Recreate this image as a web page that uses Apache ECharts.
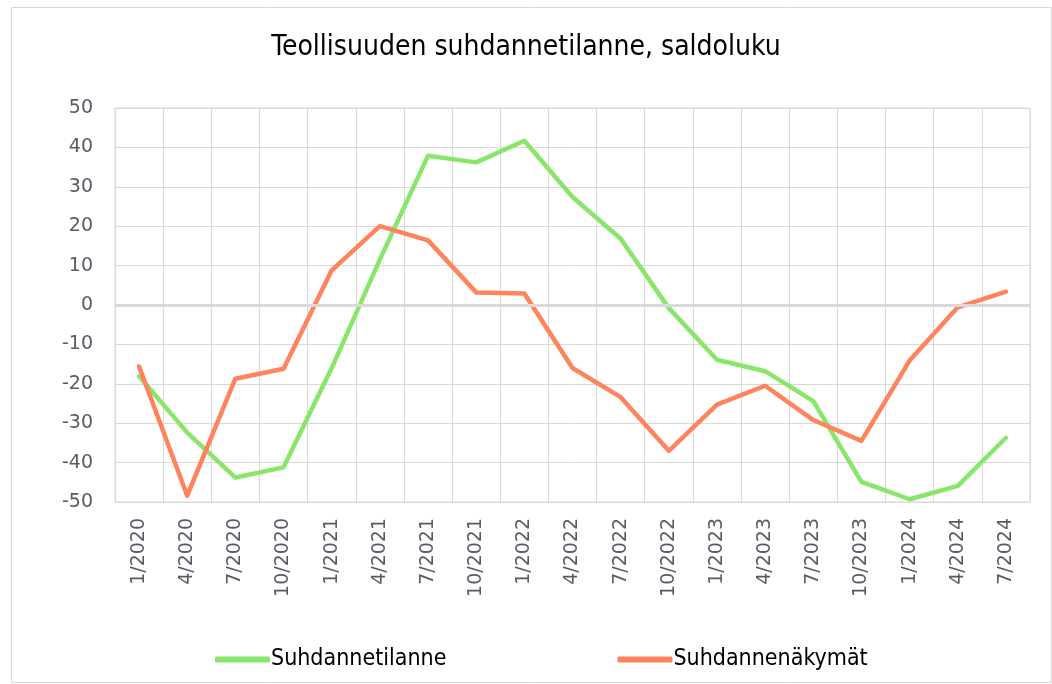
<!DOCTYPE html>
<html>
<head>
<meta charset="utf-8">
<script src="https://cdn.jsdelivr.net/npm/echarts@6/dist/echarts.min.js"></script>
<style>
  html, body { margin: 0; padding: 0; background: #fff; }
  #chart { width: 1052px; height: 684px; }
</style>
</head>
<body>
<div id="chart"></div>
<script>
// quarters
const categories = ['1/2020','4/2020','7/2020','10/2020','1/2021','4/2021','7/2021','10/2021','1/2022','4/2022','7/2022','10/2022','1/2023','4/2023','7/2023','10/2023','1/2024','4/2024','7/2024']
const tilanne = [-18.1,-32.4,-43.8,-41.2,-16,11.5,37.9,36.2,41.7,27.4,16.8,-0.8,-13.9,-16.8,-24.4,-44.9,-49.3,-45.9,-33.7]
const nakymat = [-15.6,-48.4,-18.7,-16.2,8.8,20.0,16.4,3.2,2.9,-16.0,-23.4,-37.0,-25.3,-20.5,-29.2,-34.5,-14.1,-0.6,3.4]
const yMin = -50, yMax = 50, yStep = 10

const chart = echarts.init(document.getElementById('chart'))
const gridColor = '#d9d9d9'

chart.setOption({
  backgroundColor: '#fff',
  animation: false,
  graphic: [{
    type: 'rect',
    shape: { x: 11.5, y: 7.5, width: 1040, height: 675 },
    style: { fill: 'none', stroke: '#d9d9d9', lineWidth: 1 },
    silent: true
  }],
  title: {
    text: 'Teollisuuden suhdannetilanne, saldoluku',
    left: 'center',
    top: 29,
    textStyle: { fontFamily: 'DejaVu Sans Condensed', fontSize: 28, fontWeight: 'normal', color: '#000' }
  },
  grid: { left: 115, right: 22, top: 108, bottom: 182, show: true, borderColor: gridColor, borderWidth: 1 },
  legend: {
    bottom: 8,
    left: 210,
    itemGap: 171,
    itemWidth: 55,
    itemHeight: 6,
    icon: 'roundRect',
    textStyle: { fontFamily: 'DejaVu Sans Condensed', fontSize: 23, color: '#000', padding: [0, 0, 0, -4] },
    data: ['Suhdannetilanne', 'Suhdannenäkymät']
  },
  xAxis: {
    type: 'category',
    data: categories,
    boundaryGap: true,
    axisLine: { show: false },
    axisTick: { show: false },
    splitLine: { show: true, interval: 0, lineStyle: { color: gridColor, width: 1 } },
    axisLabel: { rotate: 90, interval: 0, margin: 16, color: '#5a5a66', fontFamily: 'DejaVu Sans', fontSize: 19 }
  },
  yAxis: {
    type: 'value',
    min: yMin, max: yMax, interval: yStep,
    axisLine: { show: false },
    axisTick: { show: false },
    splitLine: { lineStyle: { color: gridColor, width: 1 } },
    axisLabel: { margin: 22, color: '#5a5a66', fontFamily: 'DejaVu Sans', fontSize: 19 }
  },
  series: [
    {
      name: 'zero',
      type: 'line',
      data: [],
      z: 1,
      silent: true,
      markLine: {
        silent: true,
        symbol: 'none',
        label: { show: false },
        lineStyle: { color: gridColor, width: 3, type: 'solid' },
        data: [{ yAxis: 0 }]
      }
    },
    {
      name: 'Suhdannetilanne',
      type: 'line',
      data: tilanne,
      symbol: 'none',
      z: 3,
      itemStyle: { color: '#8ae66a' },
      lineStyle: { color: '#8ae66a', width: 4.5, cap: 'round', join: 'round' }
    },
    {
      name: 'Suhdannenäkymät',
      type: 'line',
      data: nakymat,
      symbol: 'none',
      z: 4,
      itemStyle: { color: '#ff835c' },
      lineStyle: { color: '#ff835c', width: 4.5, cap: 'round', join: 'round' }
    }
  ]
})
</script>
</body>
</html>
